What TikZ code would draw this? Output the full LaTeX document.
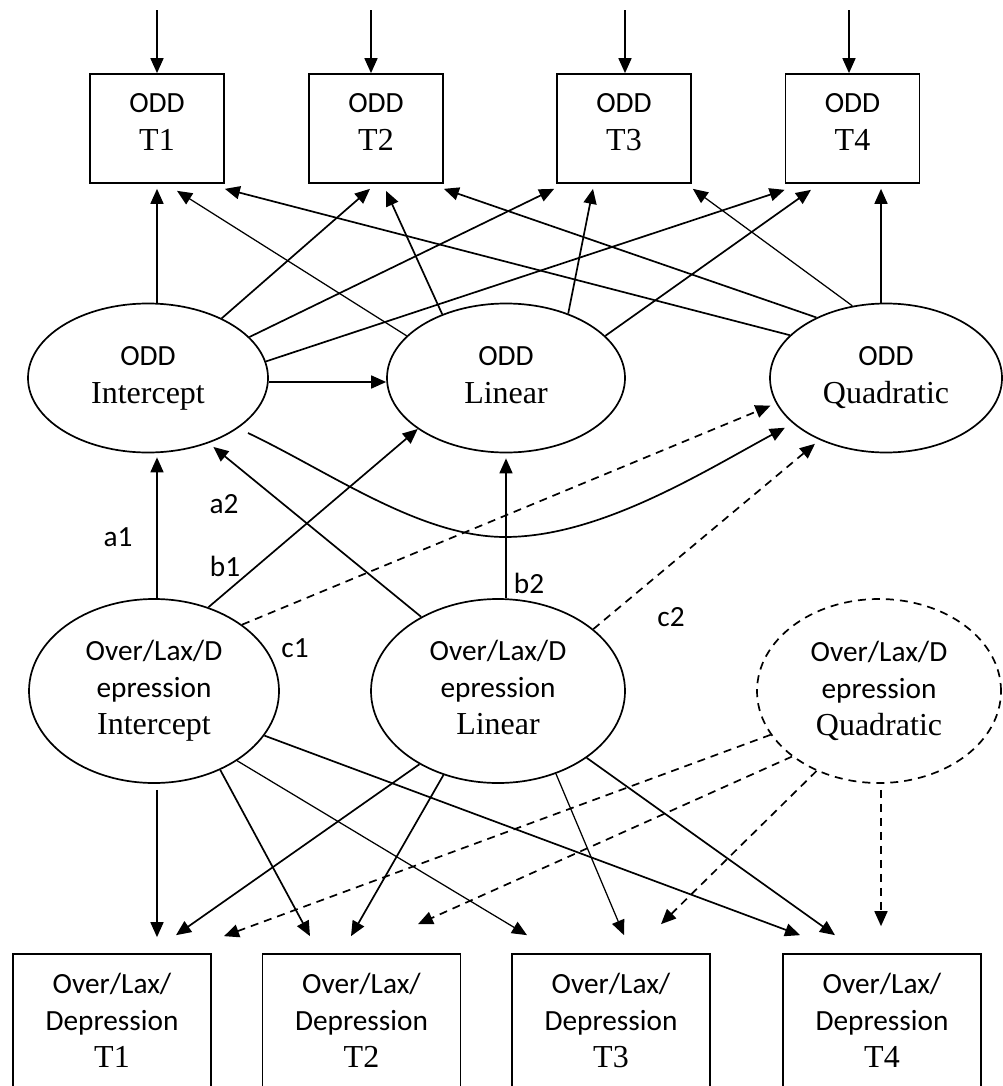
\documentclass[tikz,border=0pt]{standalone}
\usepackage{fontspec}
\setmainfont{Liberation Serif}
\setsansfont{Carlito}
\usetikzlibrary{arrows.meta,shapes.geometric,calc}
\newcommand{\tsans}{\fontsize{29.3}{38}\selectfont\sffamily}
\newcommand{\tserif}{\fontsize{32}{38}\selectfont\rmfamily}
\newcommand{\tsansb}{\fontsize{29.3}{37}\selectfont\sffamily}
\newcommand{\tserifb}{\fontsize{32}{37}\selectfont\rmfamily}
\begin{document}
\begin{tikzpicture}[x=1pt,y=-1pt,
  tbox/.style={draw,line width=1.7pt,minimum width=134pt,minimum height=109pt,inner sep=0pt},
  bbox/.style={draw,line width=1.7pt,minimum width=198pt,minimum height=196pt,inner sep=0pt},
  ell/.style={draw,ellipse,line width=1.7pt,inner sep=0pt,align=center,font=\tsans},
  ellb/.style={draw,ellipse,line width=1.7pt,inner sep=0pt,align=center,font=\tsansb},
  txt/.style={align=center,inner sep=0pt,anchor=base,font=\tsans},
  txtb/.style={align=center,inner sep=0pt,anchor=base,font=\tsansb},
  lab/.style={font=\tsans,inner sep=0pt},
  arr/.style={-{Triangle[length=15pt,width=13pt]},line width=1.7pt},
  thin/.style={line width=1.25pt},
  dsh/.style={dash pattern=on 8pt off 6pt},
]
\useasboundingbox (0,0) rectangle (1003,1086);
\clip (0,0) rectangle (1003,1086);

% top boxes
\node[tbox] (t1) at (157,128.5) {};
\node[tbox] (t2) at (376,128.5) {};
\node[tbox] (t3) at (624,128.5) {};
\node[tbox] (t4) at (852.5,128.5) {};
\node[txt] (t1t) at (157,151) {ODD\\\tserif T1};
\node[txt] (t2t) at (376,151) {ODD\\\tserif T2};
\node[txt] (t3t) at (624,151) {ODD\\\tserif T3};
\node[txt] (t4t) at (852.5,151) {ODD\\\tserif T4};

% incoming arrows
\coordinate (in1) at ([yshift=63pt]t1.north);
\coordinate (in2) at ([xshift=-5pt,yshift=63pt]t2.north);
\coordinate (in3) at ([xshift=1pt,yshift=63pt]t3.north);
\coordinate (in4) at ([xshift=-3.5pt,yshift=63pt]t4.north);
\draw[arr] (in1) -- (in1 |- t1.north) ;
\draw[arr] (in2) -- (in2 |- t2.north);
\draw[arr] (in3) -- (in3 |- t3.north);
\draw[arr] (in4) -- (in4 |- t4.north);

% ODD ellipses
\node[ell,minimum width=240pt,minimum height=149pt] (oi) at (148,378) {ODD\\\tserif Intercept};
\node[ell,minimum width=238pt,minimum height=149pt] (ol) at (506,378) {ODD\\\tserif Linear\vphantom{p}};
\node[ell,minimum width=232pt,minimum height=149pt] (oq) at (886,378) {ODD\\\tserif Quadratic};

% Over/Lax/Depression ellipses
\node[ellb,minimum width=250pt,minimum height=184pt] (li) at (154,691) {Over/Lax/D\\epression\\\tserifb Intercept};
\node[ellb,minimum width=254pt,minimum height=184pt] (ll) at (498,691) {Over/Lax/D\\epression\\\tserifb Linear\vphantom{p}};
\node[ellb,dsh,minimum width=244pt,minimum height=184pt] (lq) at (879,691) {Over/Lax/D\\epression\\\tserifb Quadratic};

% bottom boxes
\node[bbox] (b1) at (112,1052) {};
\node[bbox] (b2) at (361.5,1052) {};
\node[bbox] (b3) at (611,1052) {};
\node[bbox] (b4) at (882,1052) {};
\node[txtb] (b1t) at (112,1067) {Over/Lax/\\Depression\\\tserifb T1};
\node[txtb] (b2t) at (361.5,1067) {Over/Lax/\\Depression\\\tserifb T2};
\node[txtb] (b3t) at (611,1067) {Over/Lax/\\Depression\\\tserifb T3};
\node[txtb] (b4t) at (882,1067) {Over/Lax/\\Depression\\\tserifb T4};

% ODD intercept -> boxes
\draw[arr] (t1.south |- oi.north) -- ([yshift=-5pt]t1.south);
\draw[arr] (oi.39.7) -- ([xshift=-6pt,yshift=-5pt]t2.south);
\draw[arr] (oi.22.9) -- ([xshift=-2pt,yshift=-5pt]t3.south west);
\draw[arr] (oi.8.1) -- ([yshift=-6pt]t4.south west);
\draw[arr] ([yshift=-4pt]oi.east) -- ([yshift=-4pt]ol.west);
\draw[arr,shorten >=9pt] ([xshift=100pt,yshift=-55pt]oi.center) .. controls (330,472) and (420,537) .. (505,537)
   .. controls (600,537) and (703,472) .. (oq.206);

% ODD linear -> boxes
\draw[arr,thin] (ol.157) -- ([xshift=20pt,yshift=-7pt]t1.south);
\draw[arr] (ol.135) -- ([xshift=10pt,yshift=-7pt]t2.south);
\draw[arr] (ol.46.8) -- ([xshift=-31pt,yshift=-5pt]t3.south);
\draw[arr] (ol.23.5) -- ([xshift=-41.5pt,yshift=-6pt]t4.south);

% ODD quadratic -> boxes
\draw[arr] (oq.156.3) -- ([yshift=-5pt]t1.south east);
\draw[arr] (oq.139.1) -- ([yshift=-5pt]t2.south east);
\draw[arr,thin] (oq.115.3) -- ([xshift=1pt,yshift=-5pt]t3.south east);
\coordinate (q4) at ([xshift=-5pt]oq.north);
\draw[arr,shorten >=5pt] (q4) -- (q4 |- t4.south);

% Over/Lax/D -> ODD
\draw[arr,shorten >=4pt] (t1.south |- li.north) -- (t1.south |- oi.south);
\draw[arr,shorten >=6pt] (ll.136) -- (oi.-47.2);
\draw[arr] (li.57.2) -- (ol.210.3);
\draw[arr,shorten >=5pt] (ol.south |- ll.north) -- (ol.south);
\draw[arr,dsh,shorten >=6pt] (li.37.7) -- (oq.193.1);
\draw[arr,dsh,shorten >=6pt] (ll.33.1) -- (oq.223.7);

\node[lab] (la1) at (118,537) {a1};
\node[lab] (la2) at (224,504) {a2};
\node[lab] (lb1) at (225,566) {b1};
\node[lab] (lb2) at (529,583) {b2};
\node[lab] (lc1) at (295,648) {c1};
\node[lab] (lc2) at (671,617) {c2};

% Over/Lax/D intercept -> bottom boxes
\coordinate (e11) at ([xshift=45pt,yshift=16pt]b1.north);
\draw[arr,shorten <=6pt] (li.south -| e11) -- (e11);
\draw[arr] (li.-50.9) -- ([xshift=-51.5pt,yshift=17pt]b2.north);
\draw[arr,thin] (li.-40.1) -- ([xshift=-84pt,yshift=18pt]b3.north);
\draw[arr] (li.-22.4) -- ([xshift=-82pt,yshift=18pt]b4.north);

% Over/Lax/D linear -> bottom boxes
\draw[arr] (ll.223.2) -- ([xshift=64pt,yshift=18pt]b1.north);
\draw[arr] (ll.237.4) -- ([xshift=-10.5pt,yshift=17pt]b2.north);
\draw[arr,thin] (ll.-55.1) -- ([xshift=13pt,yshift=18pt]b3.north);
\draw[arr] (ll.-37.9) -- ([xshift=-47pt,yshift=18pt]b4.north);

% Over/Lax/D quadratic -> bottom boxes (dashed)
\draw[arr,dsh] (lq.202.9) -- ([xshift=112pt,yshift=17pt]b1.north);
\draw[arr,dsh] (lq.217.7) -- ([xshift=56.5pt,yshift=29pt]b2.north);
\draw[arr,dsh] (lq.232) -- ([xshift=50pt,yshift=29pt]b3.north);
\coordinate (e44) at ([xshift=-1pt,yshift=27pt]b4.north);
\draw[arr,dsh,shorten <=6pt] (lq.south -| e44) -- (e44);
\end{tikzpicture}
\end{document}
